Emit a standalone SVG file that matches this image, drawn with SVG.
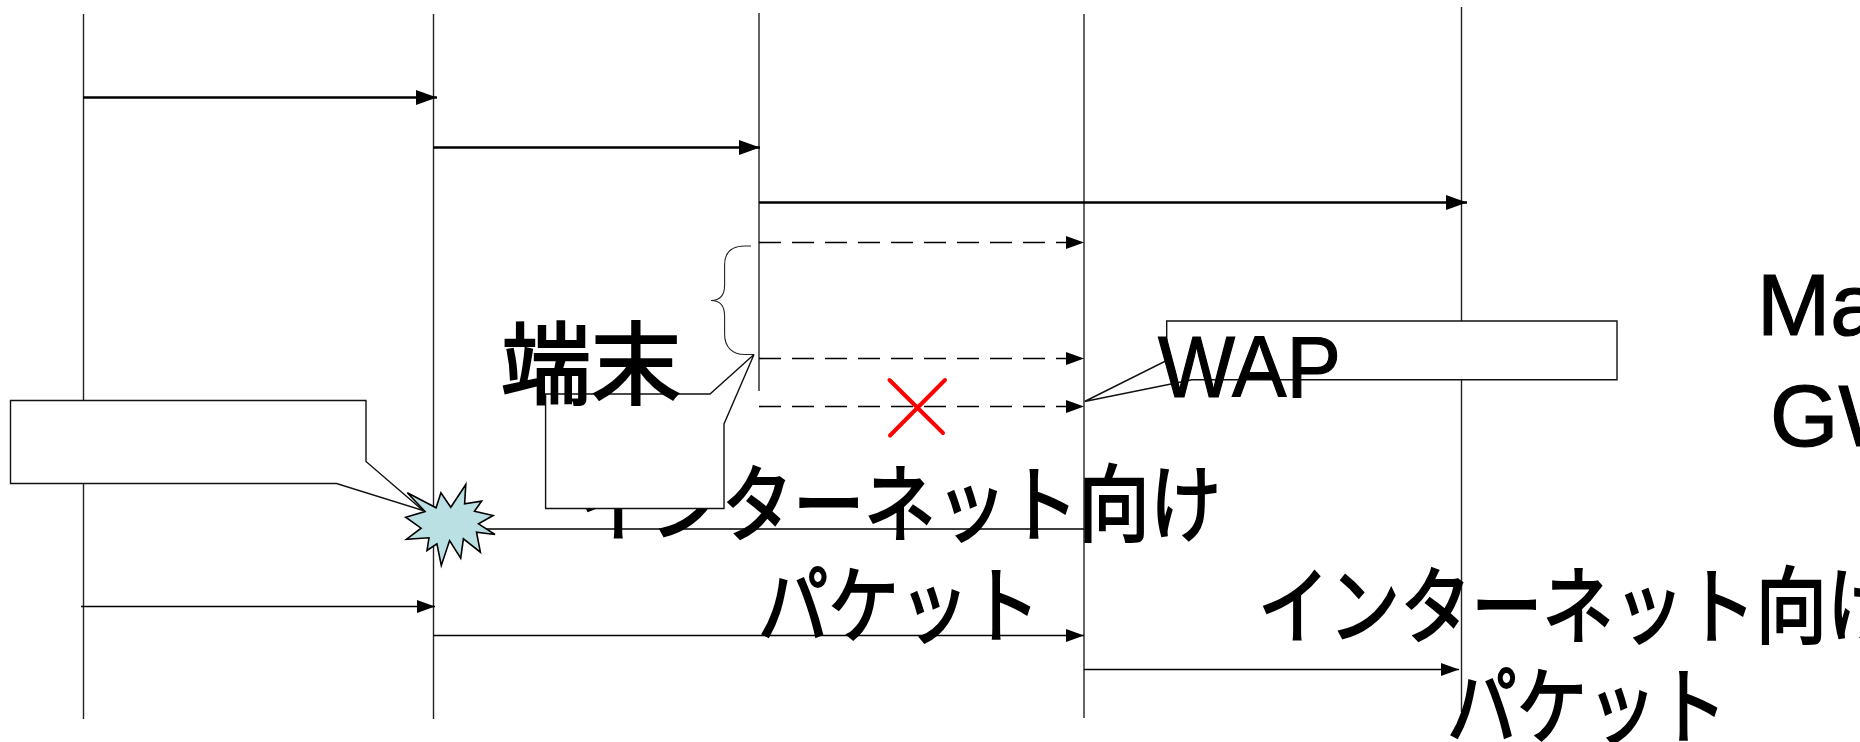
<svg xmlns="http://www.w3.org/2000/svg" width="1860" height="742" viewBox="0 0 1860 742">
<style>
.life{stroke:#222;stroke-width:1.4;fill:none}
.thick{stroke:#000;stroke-width:2.4;fill:none;marker-end:url(#big)}
.thin{stroke:#000;stroke-width:1.6;fill:none;marker-end:url(#small)}
.dash{stroke:#000;stroke-width:1.6;fill:none;stroke-dasharray:22 11;marker-end:url(#small)}
.box{fill:#fff;stroke:#111;stroke-width:1.4}
.lat{font-family:"Liberation Sans",Arial,sans-serif;font-size:88px;fill:#000;stroke:#000;stroke-width:1.2}
.jp{font-family:"Noto Sans CJK JP","Liberation Sans",sans-serif;font-size:84px;fill:#000;stroke:#000;stroke-width:2.2}
</style>
<defs>
<marker id="big" markerUnits="userSpaceOnUse" markerWidth="22" markerHeight="16" refX="21" refY="7.5" orient="auto"><path d="M0 0L21 7.5L0 15z" fill="#000"/></marker>
<marker id="small" markerUnits="userSpaceOnUse" markerWidth="20" markerHeight="14" refX="18" refY="6.5" orient="auto"><path d="M0 0L18 6.5L0 13z" fill="#000"/></marker>
</defs>
<rect width="1860" height="742" fill="#fff"/>
<g id="lifelines">
<line class="life" x1="83.5" y1="14" x2="83.5" y2="719"/>
<line class="life" x1="433.5" y1="14" x2="433.5" y2="719"/>
<line class="life" x1="759" y1="13" x2="759" y2="391"/>
<line class="life" x1="1084" y1="14" x2="1084" y2="718"/>
<line class="life" x1="1461.5" y1="7" x2="1461.5" y2="712"/>
</g>
<g id="connectors">
<line class="thick" x1="83" y1="97.5" x2="437" y2="97.5"/>
<line class="thick" x1="433" y1="147.5" x2="760" y2="147.5"/>
<line class="thick" x1="759" y1="202.5" x2="1467" y2="202.5"/>
<line class="dash" x1="759" y1="242.5" x2="1084" y2="242.5"/>
<line class="dash" x1="759" y1="358.5" x2="1084" y2="358.5"/>
<line class="dash" x1="759" y1="406.5" x2="1084" y2="406.5"/>
<line x1="480" y1="529" x2="1084" y2="529" stroke="#000" stroke-width="1.5"/>
<line class="thin" x1="81" y1="606.5" x2="435" y2="606.5"/>
<line class="thin" x1="433" y1="635.5" x2="1084" y2="635.5"/>
<line class="thin" x1="1084" y1="669.5" x2="1459" y2="669.5"/>
</g>
<g id="label-internet-1"><text class="jp" x="579" y="535" textLength="642" lengthAdjust="spacingAndGlyphs">インターネット向け</text></g>
<g id="label-packet-1"><text class="jp" x="758" y="636" textLength="282" lengthAdjust="spacingAndGlyphs">パケット</text></g>
<g id="label-internet-2"><text class="jp" x="1258" y="637" textLength="640" lengthAdjust="spacingAndGlyphs">インターネット向け</text></g>
<g id="label-packet-2"><text class="jp" x="1447" y="737" textLength="280" lengthAdjust="spacingAndGlyphs">パケット</text></g>
<g id="callout-left"><path class="box" d="M10.5 400.5H366V461.5L423 510.5L336.5 483.5H10.5Z"/></g>
<g id="burst"><path fill="#bbe0e3" stroke="#000" stroke-width="1.6" d="M407.3 492.8L436.1 507.8L440.9 492.8L450.8 507.2L465.8 484.5L464.6 503.8L481.6 501.2L474.5 511.2L493.1 515.5L478.5 523.8L495 534.5L476.5 532.2L480.4 552.2L463.4 538.8L460.7 558.2L449.6 540.5L441.3 565.5L436.9 543.8L427 550.5L429 537.8L406.5 539.2L421.1 528.2L405.7 517.2L425 511.5Z"/></g>
<g id="brace"><path fill="none" stroke="#222" stroke-width="1.1" d="M751 246H745C732 246 724.6 252 724.6 265V285C724.6 295 720 300.5 711 300.5C720 300.5 724.6 306 724.6 316V334C724.6 347 732 354.5 745 354.5H754"/></g>
<g id="callout-terminal"><path class="box" d="M545.6 394H710L754 354.5L724 424V508.5H545.6Z"/></g>
<g id="label-terminal"><text class="jp" style="font-size:90px" x="501" y="397">端末</text></g>
<g id="callout-wap"><path class="box" d="M1166.7 321H1617V379.7H1192L1084.6 401.5L1166.7 360.5Z"/></g>
<g id="label-wap"><text class="lat" x="1158" y="397" textLength="183" lengthAdjust="spacingAndGlyphs">WAP</text></g>
<g id="cross"><path fill="none" stroke="#f00" stroke-width="4" stroke-linecap="round" d="M889.5 380L943 433M945 380L890 435.5"/></g>
<g id="label-mail"><text class="lat" x="1757" y="335">Ma</text></g>
<g id="label-gw"><text class="lat" x="1770" y="446">GW</text></g>
</svg>
